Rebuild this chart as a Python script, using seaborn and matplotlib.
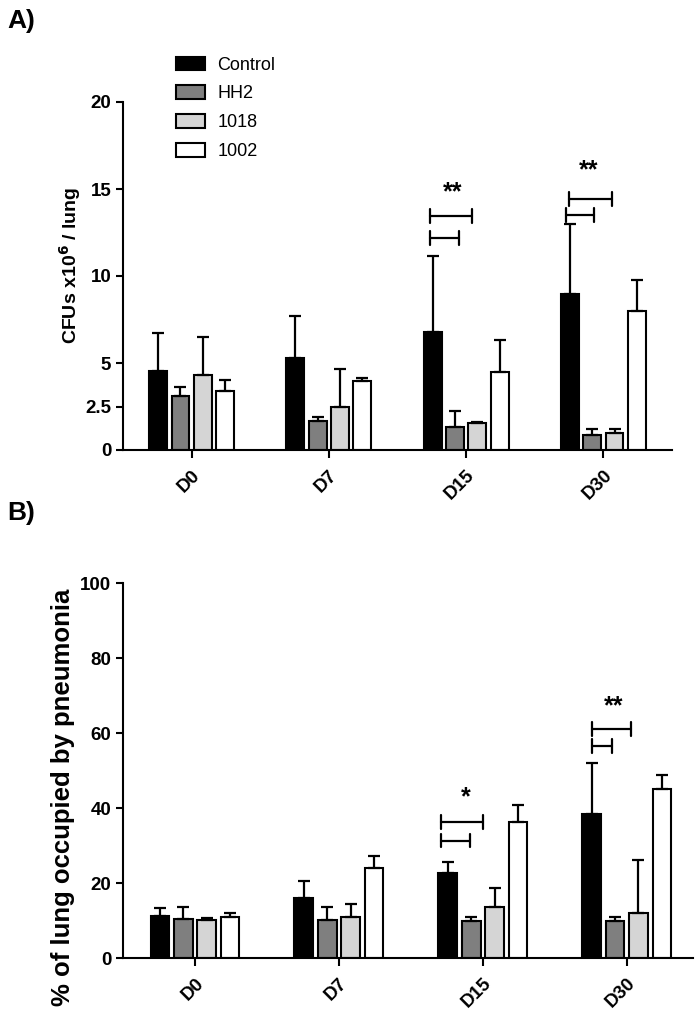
import numpy as np
import pandas as pd
import matplotlib
matplotlib.use('Agg')
import matplotlib.pyplot as plt
from matplotlib.patches import Patch
import seaborn as sns

# categories
days = ['D0', 'D7', 'D15', 'D30']
groups = ['Control', 'HH2', '1018', '1002']
group_colors = ['#000000', '#7f7f7f', '#d5d5d5', '#ffffff']

# Panel A: CFUs x10^6 / lung, mean per day for each group
cfu_control = [4.55, 5.3, 6.8, 8.95]
cfu_hh2 = [3.1, 1.65, 1.3, 0.87]
cfu_1018 = [4.3, 2.5, 1.55, 1.0]
cfu_1002 = [3.4, 3.97, 4.5, 8.0]
# upper SD
cfu_sd_control = [2.2, 2.4, 4.35, 4.05]
cfu_sd_hh2 = [0.5, 0.25, 0.95, 0.33]
cfu_sd_1018 = [2.17, 2.13, 0.08, 0.2]
cfu_sd_1002 = [0.6, 0.18, 1.85, 1.77]

# Panel B: % of lung occupied by pneumonia
pn_control = [11.3, 16.2, 22.8, 38.5]
pn_hh2 = [10.4, 10.1, 10.0, 10.0]
pn_1018 = [10.2, 11.1, 13.8, 12.0]
pn_1002 = [11.0, 24.0, 36.4, 45.1]
pn_sd_control = [2.2, 4.3, 2.8, 13.7]
pn_sd_hh2 = [3.4, 3.7, 1.1, 1.1]
pn_sd_1018 = [0.6, 3.5, 4.9, 14.2]
pn_sd_1002 = [1.0, 3.3, 4.5, 3.8]

# significance marks: (day index, label)
sig_a = [(2, '**'), (3, '**')]
sig_b = [(2, '*'), (3, '**')]

sns.set_style('ticks')
plt.rcParams.update({
    'font.family': ['Liberation Sans', 'DejaVu Sans'],
    'axes.linewidth': 1.5,
    'axes.edgecolor': 'black',
    'axes.labelcolor': 'black',
    'text.color': 'black',
    'xtick.color': 'black',
    'ytick.color': 'black',
})


def long_df(series):
    rows = []
    for g, vals in zip(groups, series):
        for d, v in zip(days, vals):
            rows.append({'day': d, 'group': g, 'value': v})
    return pd.DataFrame(rows)


def draw_panel(ax, series, sds, ylim, yticks, yticklabels, ylabel):
    df = long_df(series)
    sns.barplot(data=df, x='day', y='value', hue='group', order=days,
                hue_order=groups, palette=group_colors, errorbar=None,
                width=0.65, gap=0.2, edgecolor='black', linewidth=1.5,
                legend=False, ax=ax)
    for cont, sd in zip(ax.containers, sds):
        xs = [b.get_x() + b.get_width() / 2 for b in cont]
        ys = [b.get_height() for b in cont]
        ax.errorbar(xs, ys, yerr=[np.zeros(len(sd)), sd], fmt='none',
                    ecolor='black', elinewidth=1.6, capsize=4,
                    capthick=1.6, zorder=1)
    ax.set_ylim(*ylim)
    ax.set_yticks(yticks)
    ax.set_yticklabels(yticklabels, fontsize=13.5, fontweight='bold')
    ax.set_xticks(range(len(days)))
    ax.set_xticklabels(days, rotation=45, ha='right', rotation_mode='anchor',
                       fontsize=13.5, fontweight='bold')
    ax.tick_params(axis='both', width=1.5, length=5)
    ax.tick_params(axis='x', length=6, pad=6)
    ax.set_xlabel('')
    ax.set_ylabel(ylabel, fontweight='bold')
    sns.despine(ax=ax)


def bracket(ax, x0, x1, y, h):
    ax.plot([x0, x1], [y, y], color='black', lw=1.6)
    ax.plot([x0, x0], [y - h, y + h], color='black', lw=1.6)
    ax.plot([x1, x1], [y - h, y + h], color='black', lw=1.6)


fig = plt.figure(figsize=(6.96, 10.16), dpi=100)

# ---- Panel A ----
axA = fig.add_axes([123 / 696, 1 - 450 / 1016, 549 / 696, 348 / 1016])
draw_panel(axA, [cfu_control, cfu_hh2, cfu_1018, cfu_1002],
           [cfu_sd_control, cfu_sd_hh2, cfu_sd_1018, cfu_sd_1002],
           (0, 20), [0, 2.5, 5, 10, 15, 20], ['0', '2.5', '5', '10', '15', '20'],
           'CFUs x10$^{\\mathbf{6}}$ / lung')
axA.yaxis.label.set_size(14)
axA.yaxis.set_label_coords(-0.073, 0.53)
axA.set_xlim(-0.5, 3.5)

# D15 brackets
bracket(axA, 2 - 0.26, 2 + 0.045, 13.45, 0.4)
bracket(axA, 2 - 0.26, 2 - 0.055, 12.2, 0.4)
axA.text(2 - 0.10, 14.8, sig_a[0][1], ha='center', va='center', fontsize=18, fontweight='bold')
# D30 brackets
bracket(axA, 3 - 0.25, 3 + 0.06, 14.4, 0.4)
bracket(axA, 3 - 0.27, 3 - 0.07, 13.5, 0.4)
axA.text(3 - 0.107, 16.1, sig_a[1][1], ha='center', va='center', fontsize=18, fontweight='bold')

# ---- Panel B ----
axB = fig.add_axes([123 / 696, 1 - 958.3 / 1016, 570 / 696, 375 / 1016])
draw_panel(axB, [pn_control, pn_hh2, pn_1018, pn_1002],
           [pn_sd_control, pn_sd_hh2, pn_sd_1018, pn_sd_1002],
           (0, 100), [0, 20, 40, 60, 80, 100], ['0', '20', '40', '60', '80', '100'],
           '% of lung occupied by pneumonia')
axB.yaxis.label.set_size(18.5)
axB.yaxis.set_label_coords(-0.084, 0.43)
axB.set_xlim(-0.5, 3.46)

bracket(axB, 2 - 0.29, 2 + 0.0, 36.3, 1.8)
bracket(axB, 2 - 0.29, 2 - 0.088, 31.4, 1.8)
axB.text(2 - 0.12, 43.0, sig_b[0][1], ha='center', va='center', fontsize=18, fontweight='bold')
bracket(axB, 3 - 0.24, 3 + 0.03, 61.1, 1.8)
bracket(axB, 3 - 0.24, 3 - 0.10, 56.6, 1.8)
axB.text(3 - 0.09, 67.3, sig_b[1][1], ha='center', va='center', fontsize=18, fontweight='bold')

# legend
handles = [Patch(facecolor=c, edgecolor='black', linewidth=1.5, label=g)
           for g, c in zip(groups, group_colors)]
fig.legend(handles=handles, loc='upper left', bbox_to_anchor=(176 / 696, 1 - 56.5 / 1016),
           frameon=False, fontsize=13, handlelength=1.6, handleheight=0.8,
           labelspacing=0.64, handletextpad=0.7, borderpad=0, borderaxespad=0)

fig.text(7 / 696, 1 - 9 / 1016, 'A)', fontsize=19, fontweight='bold', va='top', ha='left')
fig.text(7 / 696, 1 - 501 / 1016, 'B)', fontsize=19, fontweight='bold', va='top', ha='left')

fig.savefig('out.png', dpi=100)
